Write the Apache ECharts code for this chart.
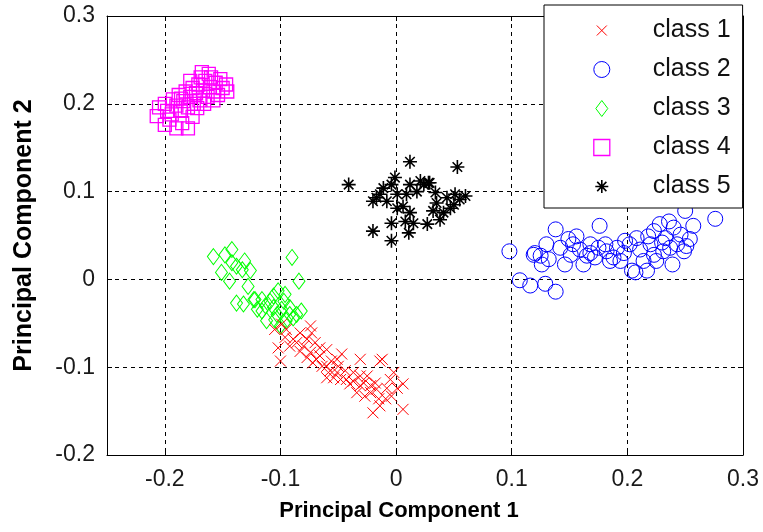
<!DOCTYPE html>
<html>
<head>
<meta charset="utf-8">
<script src="https://cdn.jsdelivr.net/npm/echarts@6/dist/echarts.min.js"></script>
<style>
html, body { margin: 0; padding: 0; background: #fff; }
#chart { width: 763px; height: 532px; }
</style>
</head>
<body>
<div id="chart"></div>
<script>
// tick labels
const xTicks = [-0.2, -0.1, 0, 0.1, 0.2, 0.3];
const yTicks = [-0.2, -0.1, 0, 0.1, 0.2, 0.3];
const classNames = ['class 1', 'class 2', 'class 3', 'class 4', 'class 5'];

// points, [pc1, pc2]
const class1 = [
  [-0.102, -0.078], [-0.105, -0.057], [-0.100, -0.093], [-0.095, -0.057], [-0.089, -0.068],
  [-0.083, -0.061], [-0.074, -0.053], [-0.073, -0.061], [-0.080, -0.076], [-0.074, -0.083],
  [-0.069, -0.091], [-0.060, -0.080], [-0.060, -0.099], [-0.051, -0.106], [-0.047, -0.085],
  [-0.043, -0.114], [-0.037, -0.106], [-0.031, -0.091], [-0.031, -0.121], [-0.025, -0.110],
  [-0.022, -0.129], [-0.018, -0.118], [-0.014, -0.093], [-0.015, -0.136], [-0.020, -0.152],
  [-0.009, -0.136], [-0.005, -0.114], [-0.002, -0.106], [0.006, -0.119], [0.006, -0.148],
  [-0.008, -0.124], [-0.027, -0.133], [-0.034, -0.129], [-0.040, -0.119], [-0.048, -0.114],
  [-0.054, -0.112], [-0.057, -0.104], [-0.064, -0.099], [-0.066, -0.087], [-0.072, -0.095],
  [-0.077, -0.089], [-0.083, -0.082], [-0.086, -0.072], [-0.092, -0.076], [-0.077, -0.068],
  [-0.070, -0.072], [-0.066, -0.078], [-0.056, -0.093], [-0.050, -0.099], [-0.044, -0.104],
  [-0.031, -0.110], [-0.028, -0.118], [-0.022, -0.121], [-0.017, -0.125], [-0.014, -0.144],
  [-0.004, -0.133], [0.001, -0.124], [-0.012, -0.091], [-0.060, -0.112], [-0.096, -0.066],
  [-0.099, -0.051], [-0.051, -0.091], [-0.037, -0.116]
];
const class2 = [
  [0.098, 0.032], [0.107, -0.001], [0.116, -0.007], [0.129, -0.005], [0.138, -0.014],
  [0.119, 0.028], [0.130, 0.040], [0.138, 0.057], [0.132, 0.023], [0.146, 0.017],
  [0.142, 0.036], [0.156, 0.049], [0.159, 0.034], [0.168, 0.040], [0.165, 0.027],
  [0.176, 0.061], [0.175, 0.036], [0.182, 0.032], [0.191, 0.036], [0.188, 0.025],
  [0.197, 0.030], [0.204, 0.010], [0.208, 0.047], [0.214, 0.021], [0.220, 0.040],
  [0.223, 0.055], [0.228, 0.063], [0.233, 0.047], [0.231, 0.032], [0.239, 0.017],
  [0.243, 0.040], [0.246, 0.051], [0.250, 0.078], [0.257, 0.061], [0.254, 0.046],
  [0.276, 0.069], [0.151, 0.028], [0.125, 0.027], [0.207, 0.008], [0.217, 0.010],
  [0.225, 0.021], [0.249, 0.032], [0.237, 0.036], [0.223, 0.028], [0.211, 0.034],
  [0.202, 0.040], [0.172, 0.025], [0.162, 0.017], [0.153, 0.040], [0.185, 0.021],
  [0.194, 0.021], [0.198, 0.044], [0.240, 0.059], [0.230, 0.042], [0.218, 0.049],
  [0.236, 0.066], [0.251, 0.038], [0.120, 0.030], [0.126, 0.017], [0.149, 0.046],
  [0.181, 0.040], [0.168, 0.030]
];
const class3 = [
  [-0.158, 0.026], [-0.142, 0.034], [-0.142, 0.019], [-0.131, 0.021], [-0.151, 0.008],
  [-0.144, -0.002], [-0.133, 0.011], [-0.126, 0.010], [-0.090, 0.025], [-0.084, -0.002],
  [-0.128, -0.008], [-0.132, -0.028], [-0.122, -0.023], [-0.116, -0.036], [-0.109, -0.025],
  [-0.103, -0.040], [-0.112, -0.047], [-0.097, -0.025], [-0.092, -0.032], [-0.086, -0.040],
  [-0.082, -0.036], [-0.095, -0.047], [-0.100, -0.053], [-0.089, -0.044], [-0.138, -0.027],
  [-0.106, -0.019], [-0.102, -0.013], [-0.096, -0.017], [-0.120, -0.034], [-0.113, -0.030],
  [-0.106, -0.032], [-0.099, -0.034], [-0.105, -0.046], [-0.092, -0.040], [-0.138, 0.015],
  [-0.148, 0.028], [-0.123, -0.023], [-0.116, -0.023]
];
const class4 = [
  [-0.205, 0.196], [-0.207, 0.186], [-0.200, 0.200], [-0.198, 0.192], [-0.196, 0.182],
  [-0.193, 0.205], [-0.190, 0.198], [-0.188, 0.210], [-0.186, 0.192], [-0.184, 0.203],
  [-0.182, 0.214], [-0.180, 0.196], [-0.178, 0.208], [-0.176, 0.218], [-0.175, 0.200],
  [-0.173, 0.212], [-0.171, 0.222], [-0.170, 0.204], [-0.168, 0.236], [-0.167, 0.215],
  [-0.165, 0.226], [-0.163, 0.208], [-0.161, 0.219], [-0.160, 0.230], [-0.158, 0.214],
  [-0.156, 0.224], [-0.154, 0.210], [-0.152, 0.228], [-0.150, 0.218], [-0.147, 0.222],
  [-0.146, 0.214], [-0.200, 0.176], [-0.190, 0.172], [-0.185, 0.178], [-0.180, 0.172],
  [-0.176, 0.185], [-0.172, 0.195], [-0.194, 0.188], [-0.186, 0.206], [-0.178, 0.226],
  [-0.166, 0.200], [-0.162, 0.234], [-0.158, 0.204], [-0.169, 0.230]
];
const class5 = [
  [0.012, 0.134], [0.053, 0.128], [-0.041, 0.108], [-0.020, 0.089], [-0.004, 0.064],
  [-0.020, 0.055], [-0.004, 0.044], [0.011, 0.053], [0.028, 0.110], [0.021, 0.112],
  [0.012, 0.108], [-0.004, 0.108], [-0.011, 0.104], [-0.014, 0.097], [0.001, 0.097],
  [0.006, 0.083], [0.012, 0.076], [0.015, 0.064], [0.027, 0.063], [0.038, 0.068],
  [0.032, 0.078], [0.035, 0.087], [0.044, 0.093], [0.051, 0.097], [0.055, 0.091],
  [0.047, 0.081], [0.041, 0.076], [0.029, 0.110], [0.018, 0.100], [0.009, 0.097],
  [-0.017, 0.093], [-0.008, 0.089], [0.001, 0.081], [0.008, 0.066], [0.050, 0.085],
  [0.024, 0.108], [0.034, 0.099], [-0.001, 0.116], [0.060, 0.095]
];

const FONT = '"Liberation Sans", Arial, sans-serif';
const classColors = ['#ff0000', '#0000ff', '#00ff00', '#ff00ff', '#000000'];
const xMark = 'path://M0,0L10,10M10,0L0,10';
const circleMark = 'circle';
const diamondMark = 'path://M6,0L12,8L6,16L0,8Z';
const squareMark = 'path://M0,0L10,0L10,10L0,10Z';
const starMark = 'path://M5,0L5,10M0,5L10,5M1.6,1.6L8.4,8.4M8.4,1.6L1.6,8.4';

// legend icons padded to a 16x16 box so they keep their own size
const legendIcons = [
  'path://M0,0M16,16M3,3L13,13M13,3L3,13',
  'circle',
  'path://M0,0M16,16M8,0L14,8L8,16L2,8Z',
  'path://M0,0L16,0L16,16L0,16Z',
  'path://M0,0M16,16M8,1.5L8,14.5M1.5,8L14.5,8M3.4,3.4L12.6,12.6M12.6,3.4L3.4,12.6'
];
const legendWidths = [1, 1, 1, 1.3, 1.6];

function fmt(v) { return Number(v.toFixed(2)).toString(); }

function scatter(name, data, symbol, size, color, width, z) {
  return {
    name: name, type: 'scatter', data: data, symbol: symbol, symbolSize: size,
    z: z,
    itemStyle: { color: 'transparent', borderColor: color, borderWidth: width, opacity: 1 },
    emphasis: { disabled: true }
  };
}

const chart = echarts.init(document.getElementById('chart'));
const axisLineStyle = { color: '#000', width: 1 };
const gridLine = { show: true, lineStyle: { color: '#000', width: 1, type: [4, 4] } };

chart.setOption({
  animation: false,
  backgroundColor: '#fff',
  grid: { left: 107, right: 20, top: 16, bottom: 77 },
  legend: {
    orient: 'vertical', left: 544, top: 5,
    padding: [13, 12, 9, 49],
    backgroundColor: '#fff', borderColor: '#000', borderWidth: 1,
    itemWidth: 92, itemHeight: 16, itemGap: 14,
    textStyle: { fontFamily: FONT, fontSize: 25, color: '#111', lineHeight: 16 },
    data: classNames.map((n, i) => ({
      name: n,
      icon: legendIcons[i],
      itemStyle: { color: 'transparent', borderColor: classColors[i], borderWidth: legendWidths[i] }
    }))
  },
  xAxis: [{
    type: 'value', min: -0.25, max: 0.3, interval: 0.05,
    axisLine: { show: true, onZero: false, lineStyle: axisLineStyle },
    axisTick: { show: true, inside: true, length: 5, customValues: xTicks, lineStyle: axisLineStyle },
    axisLabel: { customValues: xTicks, formatter: fmt, margin: 13, fontFamily: FONT, fontSize: 23, color: '#1a1a1a' },
    splitLine: gridLine,
    name: 'Principal Component 1', nameLocation: 'middle', nameGap: 45,
    nameTextStyle: { fontFamily: FONT, fontSize: 22, fontWeight: 'bold', color: '#000', padding: [0, 52, 0, 0] }
  }, {
    type: 'value', position: 'top', min: -0.25, max: 0.3, interval: 0.05,
    axisLine: { show: true, onZero: false, lineStyle: axisLineStyle },
    axisTick: { show: true, inside: true, length: 5, customValues: xTicks, lineStyle: axisLineStyle },
    axisLabel: { show: false },
    splitLine: { show: false }
  }],
  yAxis: [{
    type: 'value', min: -0.2, max: 0.3, interval: 0.1,
    axisLine: { show: true, onZero: false, lineStyle: axisLineStyle },
    axisTick: { show: true, inside: true, length: 5, customValues: yTicks, lineStyle: axisLineStyle },
    axisLabel: { customValues: yTicks, formatter: fmt, margin: 12, fontFamily: FONT, fontSize: 23, color: '#1a1a1a' },
    splitLine: gridLine,
    name: 'Principal Component 2', nameLocation: 'middle', nameGap: 70,
    nameTextStyle: { fontFamily: FONT, fontSize: 25, fontWeight: 'bold', color: '#000' }
  }, {
    type: 'value', position: 'right', min: -0.2, max: 0.3, interval: 0.1,
    axisLine: { show: true, onZero: false, lineStyle: axisLineStyle },
    axisTick: { show: true, inside: true, length: 5, customValues: yTicks, lineStyle: axisLineStyle },
    axisLabel: { show: false },
    splitLine: { show: false }
  }],
  series: [
    scatter(classNames[0], class1, xMark, 11, classColors[0], 1, 5),
    scatter(classNames[1], class2, circleMark, 15, classColors[1], 1, 2),
    scatter(classNames[2], class3, diamondMark, [12, 16], classColors[2], 1, 3),
    scatter(classNames[3], class4, squareMark, 13, classColors[3], 1.3, 4),
    scatter(classNames[4], class5, starMark, 14, classColors[4], 1.6, 6)
  ]
});
</script>
</body>
</html>
